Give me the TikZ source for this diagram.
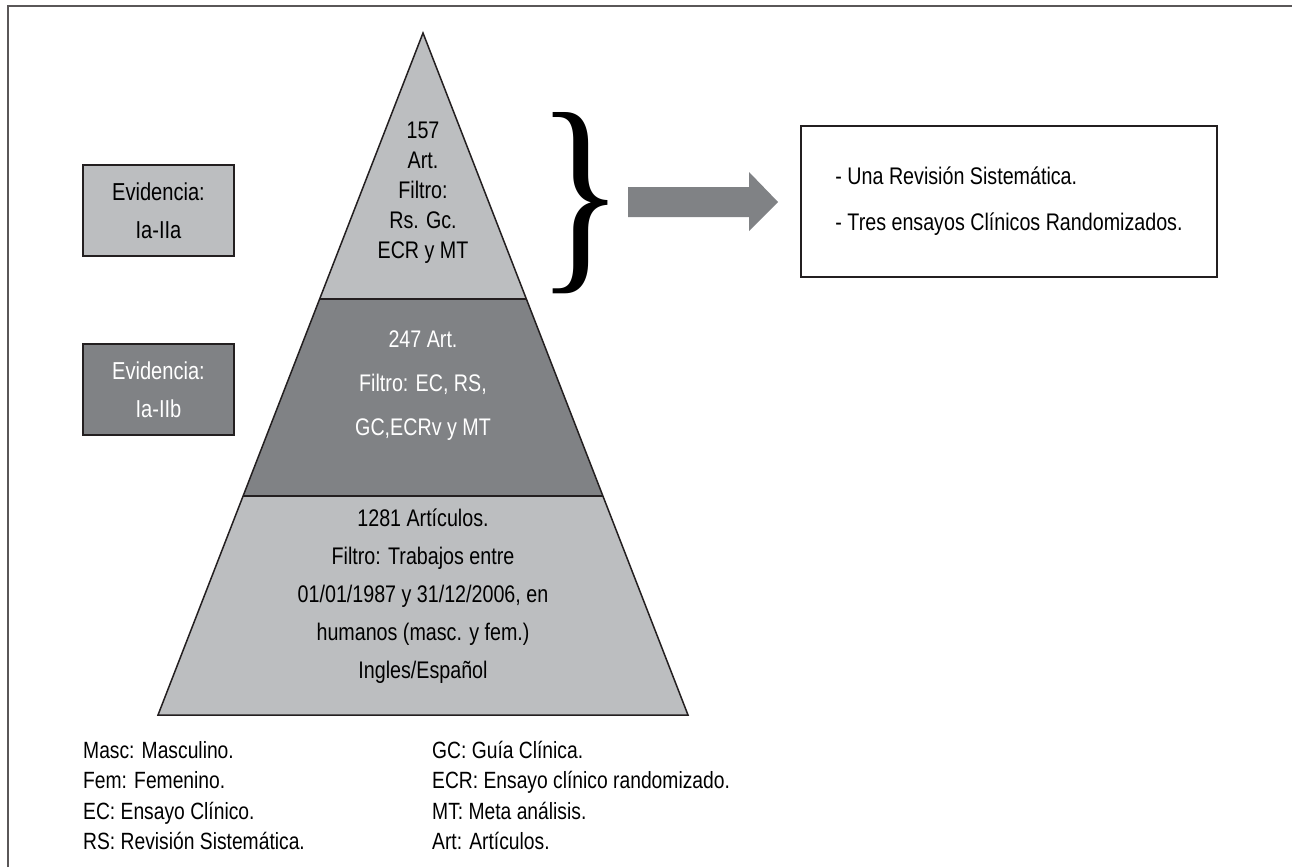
\documentclass[tikz,border=0pt]{standalone}
\usepackage{fontspec}
\setmainfont{Liberation Sans}[FakeStretch=0.82]
\newfontfamily\llavefont{Liberation Serif}
\usepackage{graphicx}
\usetikzlibrary{calc}
\definecolor{grisclaro}{HTML}{BCBEC0}
\definecolor{grisoscuro}{HTML}{808285}
\definecolor{trazo}{HTML}{231F20}

\begin{document}
\begin{tikzpicture}[x=1pt,y=-1pt,
    evbox/.style={draw=trazo, line width=1.5pt, minimum width=151pt, minimum height=91pt, inner sep=0pt, align=center, font=\fontsize{24.5}{38}\selectfont},
    capa/.style={align=center, inner sep=0pt},
    leyenda/.style={align=left, inner sep=0pt, anchor=west, font=\fontsize{23.5}{30.5}\selectfont}]
    \useasboundingbox (0,0) rectangle (1292,867);
    \draw[line width=1.2pt, color=trazo!75] (8,867) -- (8,6) -- (1292,6);
    % piramide
    \coordinate (apex) at (423,33); \coordinate (bl) at (158,715); \coordinate (br) at (688,715);
    \coordinate (l1) at ($(apex)!0.39!(bl)$); \coordinate (r1) at ($(apex)!0.39!(br)$);
    \coordinate (l2) at ($(apex)!0.6789!(bl)$); \coordinate (r2) at ($(apex)!0.6789!(br)$);
    \fill[grisclaro] (apex) -- (r1) -- (l1) -- cycle;
    \fill[grisoscuro] (l1) -- (r1) -- (r2) -- (l2) -- cycle;
    \fill[grisclaro] (l2) -- (r2) -- (br) -- (bl) -- cycle;
    \draw[line width=1.5pt, color=trazo] (apex) -- (br) -- (bl) -- cycle; \draw[line width=1.5pt, color=trazo] (l1) -- (r1); \draw[line width=1.5pt, color=trazo] (l2) -- (r2);
    \node[capa, font=\fontsize{24}{30}\selectfont] (arriba) at (423,193) {157\\Art.\\Filtro:\\Rs. Gc.\\ECR y MT};
    \node[capa, text=white, font=\fontsize{24}{44}\selectfont] (medio) at (423,386) {247 Art.\\Filtro: EC, RS,\\GC,ECRv y MT};
    \node[capa, font=\fontsize{24}{38}\selectfont] (abajo) at (423,596.5) {1281 Artículos.\\Filtro: Trabajos entre\\01/01/1987 y 31/12/2006, en\\humanos (masc. y fem.)\\Ingles/Español};
    % evidencia
    \node[evbox, fill=grisclaro] (evA) at (158.5,210.5) {Evidencia:\\Ia-IIa};
    \node[evbox, fill=grisoscuro, text=white] (evB) at (158.5,389.5) {Evidencia:\\Ia-IIb};
    % llave y flecha
    \node[inner sep=0pt] (llave) at (581,203) {\resizebox{88pt}{152pt}{\llavefont\}}};
    \fill[grisoscuro] (628,187) -- (749,187) -- (749,172) -- (778,202) -- (749,231) -- (749,217) -- (628,217) -- cycle;
    \node[draw=trazo, line width=1.5pt, minimum width=416pt, minimum height=151pt, align=left, font=\fontsize{24}{46}\selectfont] (resultado) at (1009,201.5) {- Una Revisión Sistemática.\\- Tres ensayos Clínicos Randomizados.};
    % leyenda
    \node[leyenda] (leyA) at (83,795.5) {Masc: Masculino.\\Fem: Femenino.\\EC: Ensayo Clínico.\\RS: Revisión Sistemática.};
    \node[leyenda] (leyB) at (432,795.5) {GC: Guía Clínica.\\ECR: Ensayo clínico randomizado.\\MT: Meta análisis.\\Art: Artículos.};
\end{tikzpicture}
\end{document}
